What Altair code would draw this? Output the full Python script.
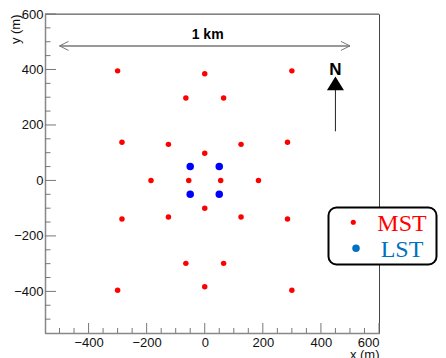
import altair as alt
import pandas as pd

# ---- data -----------------------------------------------------------------
mst_x = [-300, 0, 300, -65, 65, -285, -125, 125, 285, 0, -185, -55, 55, 185,
         0, -285, -125, 125, 285, -65, 65, 0, -300, 300]
mst_y = [395, 385, 395, 297, 297, 138, 130, 130, 138, 98, 0, 0, 0, 0,
         -100, -139, -132, -132, -139, -299, -299, -383, -396, -396]
lst_x = [-50, 50, -50, 50]
lst_y = [50, 50, -50, -50]

major_ticks = [-400, -200, 0, 200, 400, 600]
minor_ticks = [-500, -450, -350, -300, -250, -150, -100, -50,
               50, 100, 150, 250, 300, 350, 450, 500, 550]

types = ["MST", "LST"]
colors = ["#ff0000", "#0000ff"]

# annotations (data coordinates)
scale_bar_x = [-500, 500]
scale_bar_y = 485
scale_label = "1 km"
north_x = 450
north_line_y = [177, 327]
north_tri_y = 350
north_label_y = 381

W, H = 334, 319
xs = alt.Scale(domain=[-550, 600], nice=False, zero=False)
ys = alt.Scale(domain=[-550, 600], nice=False, zero=False)

pts = pd.DataFrame({
    "x": mst_x + lst_x,
    "y": mst_y + lst_y,
    "type": ["MST"] * len(mst_x) + ["LST"] * len(lst_x),
})

FONT = "Liberation Sans"

points = alt.Chart(pts).mark_circle(opacity=1).encode(
    x=alt.X("x:Q", scale=xs, axis=alt.Axis(
        values=major_ticks, ticks=False, tickSize=0, grid=False,
        labelPadding=3, title="x (m)", titleX=W, titleY=25,
        titleAlign="right", titleBaseline="alphabetic", titleAngle=0)),
    y=alt.Y("y:Q", scale=ys, axis=alt.Axis(
        values=major_ticks, ticks=False, tickSize=0, grid=False,
        labelPadding=2, title="y (m)", titleX=-30, titleY=0,
        titleAlign="right", titleBaseline="middle", titleAngle=-90)),
    color=alt.Color("type:N", scale=alt.Scale(domain=types, range=colors), legend=None),
    size=alt.Size("type:N", scale=alt.Scale(domain=types, range=[30, 56]), legend=None),
)

xmaj = pd.DataFrame({"v": major_ticks})
xmin = pd.DataFrame({"v": minor_ticks})
TICK = "#777"
xt_major = alt.Chart(xmaj).mark_rule(color=TICK, strokeWidth=1).encode(
    x=alt.X("v:Q", scale=xs), y=alt.value(H), y2=alt.value(H - 10))
xt_minor = alt.Chart(xmin).mark_rule(color=TICK, strokeWidth=1).encode(
    x=alt.X("v:Q", scale=xs), y=alt.value(H), y2=alt.value(H - 5))
yt_major = alt.Chart(xmaj).mark_rule(color=TICK, strokeWidth=1).encode(
    y=alt.Y("v:Q", scale=ys), x=alt.value(0), x2=alt.value(11))
yt_minor = alt.Chart(xmin).mark_rule(color=TICK, strokeWidth=1).encode(
    y=alt.Y("v:Q", scale=ys), x=alt.value(0), x2=alt.value(5.5))

top_border = alt.Chart(pd.DataFrame({"a": [0]})).mark_rule(
    color="#999", strokeWidth=1.5).encode(
    x=alt.value(0), x2=alt.value(W), y=alt.value(0))

# scale bar
bar_df = pd.DataFrame({"x": [scale_bar_x[0]], "x2": [scale_bar_x[1]], "y": [scale_bar_y]})
bar = alt.Chart(bar_df).mark_rule(color="#999", strokeWidth=2).encode(
    x=alt.X("x:Q", scale=xs), x2="x2:Q", y=alt.Y("y:Q", scale=ys))
head_l = alt.Chart(pd.DataFrame({"x": [scale_bar_x[0]], "y": [scale_bar_y]})).mark_point(
    shape="M2,-1L0,0L2,1", size=81, filled=False, color="#777", strokeWidth=1, opacity=1).encode(
    x=alt.X("x:Q", scale=xs), y=alt.Y("y:Q", scale=ys))
head_r = alt.Chart(pd.DataFrame({"x": [scale_bar_x[1]], "y": [scale_bar_y]})).mark_point(
    shape="M-2,-1L0,0L-2,1", size=81, filled=False, color="#777", strokeWidth=1, opacity=1).encode(
    x=alt.X("x:Q", scale=xs), y=alt.Y("y:Q", scale=ys))
bar_text = alt.Chart(pd.DataFrame({"x": [10], "y": [510], "t": [scale_label]})).mark_text(
    font=FONT, fontSize=14, fontWeight="bold", color="#000", baseline="alphabetic",
    align="center").encode(
    x=alt.X("x:Q", scale=xs), y=alt.Y("y:Q", scale=ys), text="t:N")

# north arrow
n_line = alt.Chart(pd.DataFrame({"x": [north_x], "y": [north_line_y[0]], "y2": [north_line_y[1]]})).mark_rule(
    color="#222", strokeWidth=1).encode(
    x=alt.X("x:Q", scale=xs), y=alt.Y("y:Q", scale=ys), y2="y2:Q")
n_tri = alt.Chart(pd.DataFrame({"x": [north_x], "y": [north_tri_y]})).mark_point(
    shape="M0,-0.8L1,0.8L-1,0.8Z", size=289, filled=True, color="#000", opacity=1).encode(
    x=alt.X("x:Q", scale=xs), y=alt.Y("y:Q", scale=ys))
n_text = alt.Chart(pd.DataFrame({"x": [north_x], "y": [north_label_y], "t": ["N"]})).mark_text(
    font=FONT, fontSize=17, fontWeight="bold", color="#000", baseline="alphabetic",
    align="center").encode(
    x=alt.X("x:Q", scale=xs), y=alt.Y("y:Q", scale=ys), text="t:N")

# legend box (annotation)
one = pd.DataFrame({"a": [0]})
leg_box = alt.Chart(one).mark_rect(
    fill="white", stroke="#000", strokeWidth=2, cornerRadius=8).encode(
    x=alt.value(283.5), x2=alt.value(391.5), y=alt.value(193.5), y2=alt.value(250.5))
leg_dot1 = alt.Chart(one).mark_circle(color="#ff0000", size=26, opacity=1).encode(
    x=alt.value(308.3), y=alt.value(208.3))
leg_dot2 = alt.Chart(one).mark_circle(color="#0070c0", size=56, opacity=1).encode(
    x=alt.value(311), y=alt.value(234.3))
leg_t1 = alt.Chart(one).mark_text(
    font="Liberation Serif", fontSize=24, color="#ff0000", align="center",
    baseline="alphabetic").encode(x=alt.value(357), y=alt.value(216.7), text=alt.value("MST"))
leg_t2 = alt.Chart(one).mark_text(
    font="Liberation Serif", fontSize=24, color="#0070c0", align="center",
    baseline="alphabetic").encode(x=alt.value(357), y=alt.value(243.3), text=alt.value("LST"))

chart = alt.layer(
    top_border, xt_major, xt_minor, yt_major, yt_minor,
    points, bar, head_l, head_r, bar_text, n_line, n_tri, n_text,
    leg_box, leg_dot1, leg_dot2, leg_t1, leg_t2,
).properties(
    width=W, height=H,
    autosize=alt.AutoSizeParams(type="none"),
    padding={"left": 37, "top": 6, "right": 59, "bottom": 25},
).configure_view(
    stroke="#444", strokeWidth=1
).configure_axis(
    domainColor="#888", domainWidth=1.5,
    labelFont=FONT, labelFontSize=13, labelColor="#111",
    titleFont=FONT, titleFontSize=13, titleFontWeight="normal", titleColor="#111",
)

chart.save("out.html", embed_options={"renderer": "svg", "actions": False})
